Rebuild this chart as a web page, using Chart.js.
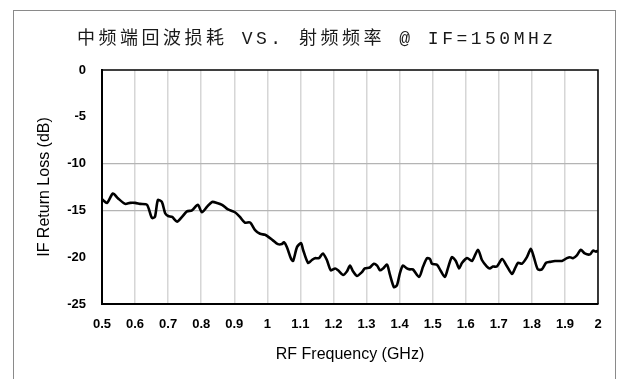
<!DOCTYPE html>
<html>
<head>
<meta charset="utf-8">
<script src="https://cdn.jsdelivr.net/npm/chart.js@4/dist/chart.umd.min.js"></script>
<style>
  html, body { margin: 0; padding: 0; background: #fff; }
  #wrap { width: 619px; height: 379px; }
</style>
</head>
<body>
<div id="wrap"><canvas id="c" width="619" height="379"></canvas></div>
<script>
// IF return loss measured across the RF band
const freqGHz = [
  0.500, 0.503, 0.515, 0.533, 0.548, 0.570, 0.585, 0.600, 0.615, 0.636,
  0.651, 0.660, 0.669, 0.681, 0.691, 0.700, 0.712, 0.727, 0.742, 0.757,
  0.772, 0.790, 0.802, 0.818, 0.833, 0.848, 0.863, 0.881, 0.902, 0.917,
  0.932, 0.948, 0.963, 0.978, 0.993, 1.002, 1.017, 1.032, 1.044, 1.050,
  1.059, 1.072, 1.078, 1.090, 1.102, 1.108, 1.123, 1.135, 1.144, 1.156,
  1.168, 1.180, 1.192, 1.205, 1.214, 1.229, 1.241, 1.250, 1.259, 1.271,
  1.286, 1.295, 1.310, 1.322, 1.332, 1.341, 1.350, 1.362, 1.371, 1.383,
  1.392, 1.401, 1.410, 1.422, 1.431, 1.440, 1.459, 1.471, 1.483, 1.492,
  1.498, 1.513, 1.525, 1.537, 1.546, 1.558, 1.570, 1.580, 1.589, 1.604,
  1.619, 1.637, 1.649, 1.664, 1.673, 1.682, 1.694, 1.710, 1.725, 1.740,
  1.749, 1.758, 1.770, 1.785, 1.797, 1.806, 1.818, 1.830, 1.843, 1.855,
  1.870, 1.891, 1.906, 1.915, 1.924, 1.936, 1.948, 1.960, 1.976, 1.985,
  1.994, 2.000
];
const returnLossDB = [
  -13.8, -13.9, -14.2, -13.2, -13.7, -14.3, -14.2, -14.2, -14.3, -14.4,
  -15.8, -15.7, -13.9, -14.1, -15.3, -15.6, -15.7, -16.2, -15.7, -15.1,
  -15.0, -14.4, -15.2, -14.6, -14.1, -14.2, -14.4, -14.9, -15.2, -15.7,
  -16.3, -16.3, -17.1, -17.5, -17.6, -17.8, -18.2, -18.6, -18.6, -18.4,
  -18.9, -20.2, -20.4, -18.9, -18.5, -19.2, -20.6, -20.3, -20.1, -20.1,
  -19.6, -20.3, -21.4, -21.2, -21.4, -21.9, -21.5, -20.9, -21.5, -22.0,
  -21.6, -21.2, -21.1, -20.7, -20.9, -21.4, -21.2, -20.8, -21.9, -23.2,
  -23.0, -21.7, -20.9, -21.2, -21.3, -21.3, -22.1, -21.0, -20.1, -20.2,
  -20.7, -20.8, -21.5, -22.1, -21.2, -20.0, -20.4, -21.2, -20.6, -20.1,
  -20.4, -19.2, -20.3, -21.0, -21.2, -21.0, -21.0, -20.2, -21.0, -21.8,
  -21.2, -20.6, -20.7, -20.0, -19.1, -20.0, -21.3, -21.3, -20.6, -20.5,
  -20.4, -20.4, -20.1, -20.0, -20.1, -19.8, -19.2, -19.6, -19.7, -19.3,
  -19.4, -19.3
];
const xTicks = [0.5, 0.6, 0.7, 0.8, 0.9, 1, 1.1, 1.2, 1.3, 1.4, 1.5, 1.6, 1.7, 1.8, 1.9, 2];
const yTicks = [0, -5, -10, -15, -20, -25];
const yGridShown = [-10, -15];

const tickFont = { family: '"Liberation Sans Narrow", "Liberation Sans", Arial, sans-serif', size: 13, weight: 'bold' };
const axisTitleFont = { family: '"Liberation Sans", Arial, sans-serif', size: 16, weight: 'normal' };

// outer frame and white background
const frame = {
  id: 'frame',
  beforeDraw(chart) {
    const ctx = chart.ctx;
    ctx.save();
    ctx.fillStyle = '#ffffff';
    ctx.fillRect(0, 0, chart.width, chart.height);
    ctx.strokeStyle = '#8a8a8a';
    ctx.lineWidth = 1;
    ctx.strokeRect(13.5, 10.5, 602, 420);
    ctx.restore();
  },
  afterDraw(chart) {
    const { ctx, chartArea: a } = chart;
    ctx.save();
    ctx.strokeStyle = '#000';
    ctx.lineWidth = 1.5;
    ctx.beginPath();
    ctx.moveTo(a.left, a.top);
    ctx.lineTo(a.right, a.top);
    ctx.lineTo(a.right, a.bottom);
    ctx.stroke();
    ctx.restore();
  }
};

// wider character spacing for the heading, centred over the whole frame
const TITLE_SPACING = 3.5;
const TITLE_CENTER_X = 315;
const titleSpacing = {
  id: 'titleSpacing',
  afterInit(chart) {
    const block = chart.titleBlock;
    if (!block) return;
    const draw = block.draw.bind(block);
    block.draw = function () {
      const ctx = chart.ctx;
      ctx.save();
      ctx.letterSpacing = TITLE_SPACING + 'px';
      ctx.translate(TITLE_CENTER_X - (block.left + block.right) / 2 + TITLE_SPACING / 2, 0);
      draw();
      ctx.restore();
    };
  }
};

new Chart(document.getElementById('c'), {
  type: 'line',
  data: {
    datasets: [{
      data: freqGHz.map((f, i) => ({ x: f, y: returnLossDB[i] })),
      borderColor: '#000',
      borderWidth: 2.6,
      pointRadius: 0,
      tension: 0.25,
      fill: false
    }]
  },
  options: {
    responsive: false,
    animation: false,
    devicePixelRatio: 1,
    layout: { padding: { left: 0, right: 21, top: 0, bottom: 0 } },
    plugins: {
      legend: { display: false },
      tooltip: { enabled: false },
      title: {
        display: true,
        text: '中频端回波损耗 VS. 射频频率 @ IF=150MHz',
        color: '#1a1a1a',
        font: { family: '"Liberation Mono", "Noto Sans CJK SC", monospace', size: 18, weight: 'normal', lineHeight: 1.2 },
        padding: { top: 28, bottom: 20.4 }
      }
    },
    scales: {
      x: {
        type: 'linear',
        min: 0.5,
        max: 2,
        afterBuildTicks(scale) { scale.ticks = xTicks.map(v => ({ value: v })); },
        afterFit(scale) { scale.height = 75; },
        ticks: {
          autoSkip: false,
          maxRotation: 0,
          padding: 13,
          color: '#000',
          font: tickFont,
          callback: v => String(v)
        },
        grid: { color: '#d6d6d6', lineWidth: 1.5, drawTicks: false },
        border: { display: true, color: '#000', width: 2 },
        title: {
          display: true,
          text: 'RF Frequency (GHz)',
          color: '#000',
          font: axisTitleFont,
          padding: { top: 0, bottom: 15 }
        }
      },
      y: {
        type: 'linear',
        min: -25,
        max: 0,
        afterBuildTicks(scale) { scale.ticks = yTicks.slice().reverse().map(v => ({ value: v })); },
        afterFit(scale) { scale.width = 102; },
        ticks: {
          padding: 16,
          color: '#000',
          font: tickFont,
          callback: v => String(v)
        },
        grid: {
          color: c => (c.tick && yGridShown.includes(c.tick.value)) ? '#b4b4b4' : 'rgba(0,0,0,0)',
          lineWidth: 1.2,
          drawTicks: false
        },
        border: { display: true, color: '#000', width: 2 },
        title: {
          display: true,
          text: 'IF Return Loss (dB)',
          color: '#000',
          font: axisTitleFont,
          padding: { top: 35, bottom: 0 }
        }
      }
    }
  },
  plugins: [frame, titleSpacing]
});
</script>
</body>
</html>
